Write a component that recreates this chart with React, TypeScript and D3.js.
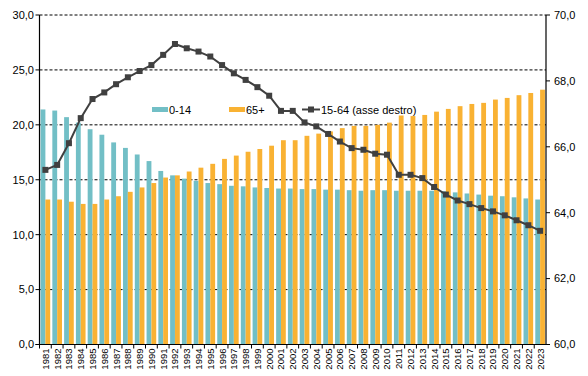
import React from "react";
import * as d3 from "d3";

const years = d3.range(1981, 2024).map(String);
const age0to14 = [21.4, 21.3, 20.7, 20.2, 19.6, 19.1, 18.4, 17.9, 17.3, 16.7, 15.8, 15.4, 15.1, 14.9, 14.7, 14.6, 14.45, 14.4, 14.3, 14.25, 14.2, 14.2, 14.15, 14.15, 14.1, 14.1, 14.05, 14.0, 14.05, 14.05, 14.0, 14.0, 14.0, 14.0, 13.95, 13.85, 13.75, 13.65, 13.55, 13.5, 13.4, 13.3, 13.2];
const age65plus = [13.2, 13.2, 13.0, 12.8, 12.8, 13.2, 13.5, 13.9, 14.3, 14.7, 15.2, 15.4, 15.75, 16.1, 16.45, 16.9, 17.2, 17.55, 17.8, 18.1, 18.6, 18.6, 19.0, 19.2, 19.4, 19.7, 19.9, 19.9, 20.0, 20.2, 20.85, 20.8, 20.9, 21.2, 21.45, 21.7, 21.9, 22.0, 22.3, 22.45, 22.7, 22.9, 23.2];
const age15to64 = [65.3, 65.45, 66.11, 66.87, 67.45, 67.65, 67.9, 68.11, 68.3, 68.48, 68.79, 69.12, 68.99, 68.89, 68.74, 68.48, 68.23, 68.03, 67.81, 67.55, 67.09, 67.09, 66.74, 66.62, 66.39, 66.16, 65.96, 65.91, 65.79, 65.76, 65.15, 65.15, 65.05, 64.78, 64.55, 64.37, 64.26, 64.14, 64.04, 63.92, 63.77, 63.62, 63.45];
const leftTicks = [0, 5, 10, 15, 20, 25, 30];
const rightTicks = [60, 62, 64, 66, 68, 70];
const seriesNames = ["0-14", "65+", "15-64 (asse destro)"];

const TEAL = "#72bfc6";
const ORANGE = "#f9b233";
const LINE = "#404040";

const W = 588, H = 376;
const left = 39.5, right = 546, top = 15, bottom = 344.5;
const font = "Arial, 'Liberation Sans', sans-serif";

export default function App() {
  const x = d3.scaleBand().domain(years).range([left, right]).paddingInner(0.18).paddingOuter(0.09);
  const inner = d3.scaleBand().domain(["a", "b"]).range([0, x.bandwidth()]);
  const yL = d3.scaleLinear().domain([0, 30]).range([bottom, top]);
  const yR = d3.scaleLinear().domain([60, 70]).range([bottom, top]);
  const step = (right - left) / years.length;
  const cx = (y: string) => (x(y) as number) + x.bandwidth() / 2;
  const line = d3.line<number>().x((_, i) => cx(years[i])).y((v) => yR(v));
  const fmt = (v: number) => v.toFixed(1).replace(".", ",");

  return (
    <svg width={W} height={H} style={{ position: "absolute", left: 0, top: 0, background: "#fff" }} fontFamily={font}>
      {/* gridlines */}
      {leftTicks.filter((t) => t > 0).map((t) => (
        <line key={t} x1={left} x2={right} y1={yL(t)} y2={yL(t)} stroke="#000" strokeWidth={1} strokeDasharray="3,2" />
      ))}
      {/* bars */}
      {years.map((yr, i) => (
        <g key={yr}>
          <rect x={(x(yr) as number) + (inner("a") as number)} width={inner.bandwidth()} y={yL(age0to14[i])} height={bottom - yL(age0to14[i])} fill={TEAL} />
          <rect x={(x(yr) as number) + (inner("b") as number)} width={inner.bandwidth()} y={yL(age65plus[i])} height={bottom - yL(age65plus[i])} fill={ORANGE} />
        </g>
      ))}
      {/* line */}
      <path d={line(age15to64) || ""} fill="none" stroke={LINE} strokeWidth={2} />
      {age15to64.map((v, i) => (
        <rect key={i} x={cx(years[i]) - 3} y={yR(v) - 3} width={6} height={6} fill={LINE} />
      ))}
      {/* axes */}
      <line x1={left} x2={left} y1={top} y2={bottom} stroke="#000" strokeWidth={1.2} />
      <line x1={right} x2={right} y1={top} y2={bottom} stroke="#000" strokeWidth={1.2} />
      <line x1={left - 4} x2={right + 4} y1={bottom} y2={bottom} stroke="#000" strokeWidth={1.2} />
      {leftTicks.map((t) => (
        <g key={t}>
          <line x1={left - 4} x2={left} y1={yL(t)} y2={yL(t)} stroke="#000" />
          <text x={34} y={yL(t)} dy="0.35em" textAnchor="end" fontSize={11} fill="#000">{fmt(t)}</text>
        </g>
      ))}
      {rightTicks.map((t) => (
        <g key={t}>
          <line x1={right} x2={right + 4} y1={yR(t)} y2={yR(t)} stroke="#000" />
          <text x={554} y={yR(t)} dy="0.35em" textAnchor="start" fontSize={11} fill="#000">{fmt(t)}</text>
        </g>
      ))}
      {years.map((yr, i) => (
        <line key={"t" + yr} x1={left + step * i} x2={left + step * i} y1={bottom} y2={bottom + 4} stroke="#000" />
      ))}
      {years.map((yr) => (
        <text key={"l" + yr} transform={`translate(${cx(yr) + 3.5},${bottom + 4}) rotate(-90)`} textAnchor="end" fontSize={9.5} fill="#000">{yr}</text>
      ))}
      {/* legend */}
      <rect x={152} y={107} width={16} height={5} fill={TEAL} />
      <text x={169} y={114} fontSize={11} fill="#000">{seriesNames[0]}</text>
      <rect x={229} y={107} width={16} height={5} fill={ORANGE} />
      <text x={246} y={114} fontSize={11} fill="#000">{seriesNames[1]}</text>
      <line x1={302} x2={320} y1={109.5} y2={109.5} stroke={LINE} strokeWidth={2} />
      <rect x={308} y={106.5} width={6} height={6} fill={LINE} />
      <text x={321} y={114} fontSize={11} fill="#000">{seriesNames[2]}</text>
    </svg>
  );
}
